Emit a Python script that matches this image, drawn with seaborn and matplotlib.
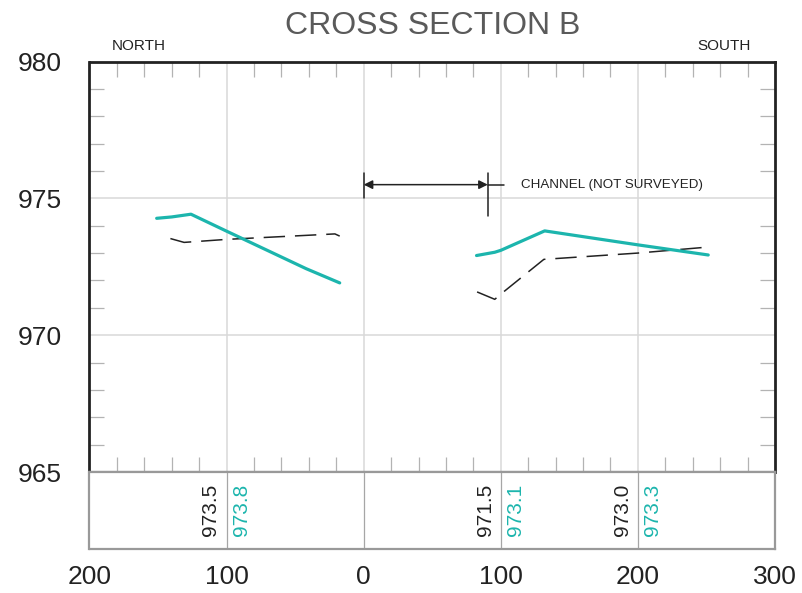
import numpy as np
import pandas as pd
import matplotlib
matplotlib.use("Agg")
import matplotlib.pyplot as plt
import seaborn as sns

# Stations (ft, negative = north of centerline) and elevations (ft)
existing_north_sta = [-141, -131, -100, -21, -17.5]
existing_north_elev = [973.53, 973.39, 973.5, 973.70, 973.62]
existing_south_sta = [82.7, 95.6, 100, 131.4, 200, 251.3]
existing_south_elev = [971.58, 971.31, 971.5, 972.77, 973.0, 973.22]

proposed_north_sta = [-151, -140, -126, -100, -42, -17.5]
proposed_north_elev = [974.27, 974.32, 974.42, 973.8, 972.43, 971.91]
proposed_south_sta = [82.3, 95.6, 100, 132, 200, 251.3]
proposed_south_elev = [972.91, 973.03, 973.1, 973.81, 973.3, 972.93]

label_stations = [-100, 100, 200]
x_ticks = [-200, -100, 0, 100, 200, 300]
x_tick_labels = ["200", "100", "0", "100", "200", "300"]
y_ticks = [965, 970, 975, 980]
y_tick_labels = ["965", "970", "975", "980"]

channel_start, channel_end = 0, 90.5
channel_elev = 975.5

TEAL = "#1cb5ad"
DARK = "#222222"
GRID = "#d9d9d9"
TICK = "#b3b3b3"

sns.set_theme(style="white")
plt.rcParams["font.family"] = ["Liberation Sans", "DejaVu Sans"]

W, H = 803, 593
fig = plt.figure(figsize=(W / 100, H / 100), dpi=100)

left, right = 89.5, 775
top, mid, bottom = 61.5, 472, 548.5
ax = fig.add_axes([left / W, 1 - mid / H, (right - left) / W, (mid - top) / H])
axb = fig.add_axes([left / W, 1 - bottom / H, (right - left) / W, (bottom - mid) / H], sharex=ax)


def frame(sta_n, el_n, sta_s, el_s):
    return pd.DataFrame({
        "station": list(sta_n) + list(sta_s),
        "elev": list(el_n) + list(el_s),
        "segment": ["N"] * len(sta_n) + ["S"] * len(sta_s),
    })


existing = frame(existing_north_sta, existing_north_elev, existing_south_sta, existing_south_elev)
proposed = frame(proposed_north_sta, proposed_north_elev, proposed_south_sta, proposed_south_elev)

sns.lineplot(data=existing, x="station", y="elev", units="segment", estimator=None,
             sort=False, color=DARK, lw=1.1, linestyle=(0, (14, 6.5)), ax=ax, zorder=4)
sns.lineplot(data=proposed, x="station", y="elev", units="segment", estimator=None,
             sort=False, color=TEAL, lw=2.3, ax=ax, zorder=5)

ax.set_xlim(-200, 300)
ax.set_ylim(965, 980)
ax.set_xlabel("")
ax.set_ylabel("")

# grid lines
for xv in [-100, 0, 100, 200]:
    ax.axvline(xv, color=GRID, lw=1.1, zorder=1)
for yv in [970, 975]:
    ax.axhline(yv, color=GRID, lw=1.1, zorder=1)

# spines
for s in ["left", "top", "right"]:
    ax.spines[s].set_color(DARK)
    ax.spines[s].set_linewidth(2.0)
ax.spines["bottom"].set_color("#8c8c8c")
ax.spines["bottom"].set_linewidth(1.6)

# ticks: labels only on left of main; minor inward ticks on all sides
ax.set_yticks(y_ticks)
ax.set_yticklabels(y_tick_labels)
ax.tick_params(axis="y", which="major", length=0, pad=20, labelsize=19, labelcolor=DARK)
ax.tick_params(axis="x", which="major", length=0, labelbottom=False)
minor_x = [v for v in range(-180, 300, 20) if v % 100 != 0]
minor_y = [v for v in range(966, 980) if v % 5 != 0]
ax.set_xticks(minor_x, minor=True)
ax.set_yticks(minor_y, minor=True)
ax.tick_params(which="minor", direction="in", length=11, width=0.9, color=TICK,
               top=True, bottom=True, left=True, right=True)

# labels above the frame
ax.text(112 / W, 1 - 45.5 / H, "NORTH", transform=fig.transFigure, fontsize=11,
        color=DARK, ha="left", va="center")
ax.text(751 / W, 1 - 45.5 / H, "SOUTH", transform=fig.transFigure, fontsize=11,
        color=DARK, ha="right", va="center")
fig.text((left + right) / 2 / W, 1 - 26.5 / H, "CROSS SECTION B", fontsize=23,
         color="#5a5a5a", ha="center", va="center")

# channel extent annotation
ax.annotate("", xy=(channel_start, channel_elev), xytext=(channel_end, channel_elev),
            arrowprops=dict(arrowstyle="<|-|>", color=DARK, lw=1.1,
                            mutation_scale=13, shrinkA=0, shrinkB=0), zorder=6)
ax.plot([channel_start, channel_start], [975.0, 975.92], color=DARK, lw=1.1, zorder=6)
ax.plot([channel_end, channel_end], [974.35, 975.92], color=DARK, lw=1.1, zorder=6)
ax.plot([channel_end, 102], [channel_elev, channel_elev], color=DARK, lw=1.1, zorder=6)
ax.text(114.4, channel_elev, "CHANNEL (NOT SURVEYED)", fontsize=9.6, color=DARK,
        ha="left", va="center")

# elevation table under the section
axb.set_ylim(0, 1)
axb.set_yticks([])
for s in axb.spines.values():
    s.set_color("#999999")
    s.set_linewidth(1.6)
for xv in [-100, 0, 100, 200]:
    axb.axvline(xv, color="#a6a6a6", lw=0.9)
axb.set_xticks(x_ticks)
axb.set_xticklabels(x_tick_labels)
axb.tick_params(axis="x", length=0, pad=12, labelsize=19, labelcolor=DARK)

ex_all_sta = existing_north_sta + existing_south_sta
ex_all_el = existing_north_elev + existing_south_elev
pr_all_sta = proposed_north_sta + proposed_south_sta
pr_all_el = proposed_north_elev + proposed_south_elev
for st in label_stations:
    ev = ex_all_el[ex_all_sta.index(st)]
    pv = pr_all_el[pr_all_sta.index(st)]
    axb.text(st - 11.5, 0.5, f"{ev:.1f}", rotation=90, ha="center", va="center",
             fontsize=15, color=DARK)
    axb.text(st + 11, 0.5, f"{pv:.1f}", rotation=90, ha="center", va="center",
             fontsize=15, color=TEAL)

fig.savefig("out.png", dpi=100)
